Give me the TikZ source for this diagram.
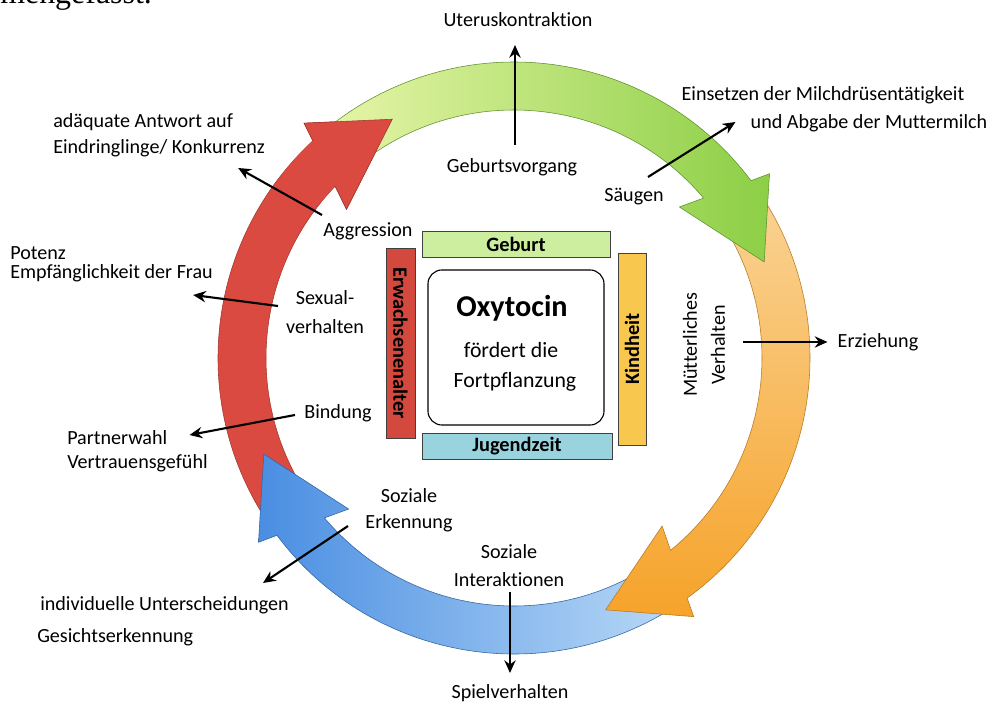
\documentclass[tikz,border=0pt]{standalone}
\usepackage{fontspec}
\setmainfont{Carlito}[Ligatures={NoCommon}]
\newfontfamily\timesfont{Liberation Serif}
\usetikzlibrary{arrows.meta,positioning}

\definecolor{ringgreenA}{HTML}{E6F5A8}
\definecolor{ringgreenB}{HTML}{8CCF45}
\definecolor{ringorangeA}{HTML}{FAD394}
\definecolor{ringorangeB}{HTML}{F6A32A}
\definecolor{ringblueA}{HTML}{4A8EE2}
\definecolor{ringblueB}{HTML}{B8D8F6}
\definecolor{ringred}{HTML}{DA4A40}
\definecolor{boxgreen}{HTML}{CCEE9E}
\definecolor{boxblue}{HTML}{98D3DE}
\definecolor{boxred}{HTML}{D4493D}
\definecolor{boxyellow}{HTML}{F8C84E}

\tikzset{
  lbl/.style={font=\fontsize{14.3}{20}\selectfont, inner sep=0pt, align=center},
  pfeil/.style={-{Stealth[length=9pt,width=8pt]}, line width=1.5pt},
  phase/.style={draw=black!75, line width=0.6pt, inner sep=0pt,
    font=\fontsize{14.5}{17}\selectfont\bfseries},
}

% ring arrow: style, start angle, base angle (runs clockwise)
\newcommand\ringarrow[3]{%
  \path[#1] (#2:296) arc[start angle=#2, end angle=#3-2.2, radius=296]
    -- (#3-3.2:315) -- (#3-18:268) -- (#3+3.4:224) -- (#3+1.15:248)
    arc[start angle=#3+1.15, end angle=#2, radius=248] -- cycle;}
% head only, drawn again on top
\newcommand\ringhead[3]{%
  \fill[#1] (#3+6:296) arc[start angle=#3+6, end angle=#3-2.2, radius=296]
    -- (#3-3.2:315) -- (#3-18:268) -- (#3+3.4:224) -- (#3+1.15:248)
    arc[start angle=#3+1.15, end angle=#3+6, radius=248] -- cycle;
  \draw[#2] (#3-2.2:296) -- (#3-3.2:315) -- (#3-18:268) -- (#3+3.4:224) -- (#3+1.15:248);}

\begin{document}
\begin{tikzpicture}[x=0.025cm, y=0.025cm]
  \useasboundingbox (-514,-344) rectangle (482,358);

  \node[anchor=base west, inner sep=0pt, font=\timesfont\fontsize{22.7}{26}\selectfont] (kopf) at (-514,354) {mengefasst.};

  % ring
  \ringarrow{fill=ringred, draw=ringred!75!black, line width=0.4pt}{214}{135}
  \ringarrow{left color=ringblueA, right color=ringblueB, draw=ringblueA!70!black, line width=0.4pt}{303}{219}
  \ringarrow{top color=ringorangeA, bottom color=ringorangeB, draw=ringorangeB!75!black, line width=0.4pt}{34}{-52}
  \ringarrow{left color=ringgreenA, right color=ringgreenB, draw=ringgreenB!70!black, line width=0.4pt}{129}{39}
  \ringhead{ringred}{ringred!75!black, line width=0.4pt}{135}

  % phases
  \node[phase, fill=boxgreen, minimum width=4.7cm, minimum height=0.65cm] (geburt) at (2,114) {Geburt};
  \node[phase, fill=boxyellow, rotate=90, minimum width=4.8cm, minimum height=0.7cm] (kindheit) at (118,9) {Kindheit};
  \node[phase, fill=boxblue, minimum width=4.75cm, minimum height=0.65cm] (jugend) at (3,-88) {Jugendzeit};
  \node[phase, fill=boxred, rotate=-90, minimum width=4.75cm, minimum height=0.725cm] (erwachsen) at (-113.5,15) {Erwachsenenalter};

  \node[draw, line width=0.8pt, rounded corners=0.35cm, minimum width=4.4cm, minimum height=3.875cm] (kern) at (2,10.5) {};
  \node[font=\fontsize{21.5}{24}\selectfont\bfseries] (oxy) at (-2,50) {Oxytocin};
  \node[font=\fontsize{15.5}{18}\selectfont] (foerdert) at (-3,8) {fördert die};
  \node[font=\fontsize{15.5}{18}\selectfont] (fortpfl) at (1,-24) {Fortpflanzung};

  % Geburt
  \node[lbl] (uterus) at (4,338) {Uteruskontraktion};
  \node[lbl] (geburtsv) at (-2,191) {Geburtsvorgang};
  \draw[pfeil] ([shift={(3,22)}]geburtsv.center) -- ([shift={(-3,-25)}]uterus.center);

  \node[lbl] (milch) at (309,263) {Einsetzen der Milchdrüsentätigkeit};
  \node[lbl] (abgabe) at (355,235) {und Abgabe der Muttermilch};
  \node[lbl] (saeugen) at (120,161) {Säugen};
  \draw[pfeil] ([shift={(14,20)}]saeugen.center) -- ([shift={(-15,1)}]abgabe.west);

  % Kindheit
  \node[lbl, rotate=90] (mutter) at (190,13) {Mütterliches\\Verhalten};
  \node[lbl] (erziehung) at (364,16) {Erziehung};
  \draw[pfeil] ([shift={(39,3)}]mutter.center) -- ([shift={(-10,0)}]erziehung.west);

  % Jugendzeit
  \node[lbl] (interakt) at (-5,-208) {Soziale\\Interaktionen};
  \node[lbl] (spiel) at (-4,-335) {Spielverhalten};
  \draw[pfeil] ([shift={(1,-26)}]interakt.center) -- ([shift={(0,20)}]spiel.center);

  \node[lbl, font=\fontsize{14.3}{18.5}\selectfont] (erkennung) at (-105,-152) {Soziale\\Erkennung};
  \node[lbl, anchor=west] (unterschied) at (-474,-247) {individuelle Unterscheidungen};
  \node[lbl, anchor=west] (gesicht) at (-477,-279) {Gesichtserkennung};
  \draw[pfeil] ([shift={(-61,-16)}]erkennung.center) -- ([shift={(223,22)}]unterschied.west);

  % Erwachsenenalter
  \node[lbl] (bindung) at (-176,-55) {Bindung};
  \node[lbl, anchor=west] (partner) at (-447,-80) {Partnerwahl};
  \node[lbl, anchor=west] (vertrauen) at (-447,-105) {Vertrauensgefühl};
  \draw[pfeil] ([shift={(-43,-2)}]bindung.center) -- ([shift={(22,3)}]partner.east);

  \node[lbl, font=\fontsize{14.3}{20.5}\selectfont] (sexual) at (-189,46) {Sexual-\\verhalten};
  \node[lbl, anchor=west] (potenz) at (-504,105) {Potenz};
  \node[lbl, anchor=west] (empf) at (-504,85) {Empfänglichkeit der Frau};
  \draw[pfeil] ([shift={(-47,6)}]sexual.center) -- ([shift={(-20,-22)}]empf.east);

  \node[lbl] (aggression) at (-146,127) {Aggression};
  \node[lbl, anchor=west] (antwort) at (-461,236) {adäquate Antwort auf};
  \node[lbl, anchor=west] (konkurrenz) at (-461,210) {Eindringlinge/ Konkurrenz};
  \draw[pfeil] ([shift={(-46,16)}]aggression.center) -- ([shift={(-27,-20)}]konkurrenz.east);
\end{tikzpicture}
\end{document}
